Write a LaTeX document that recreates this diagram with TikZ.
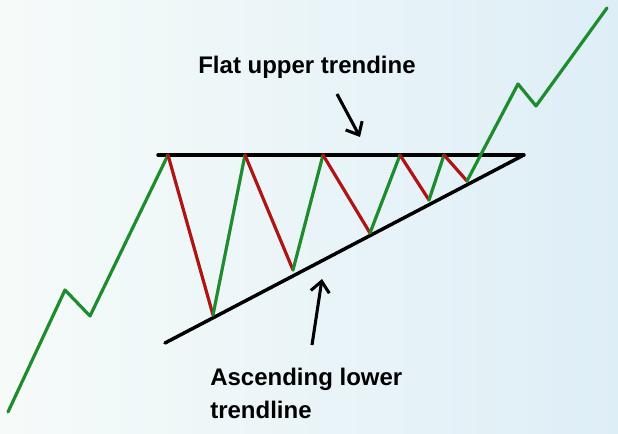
\documentclass[tikz,border=0pt]{standalone}
\usepackage{fontspec}
\setmainfont{Liberation Sans}
\usetikzlibrary{arrows.meta}
\definecolor{gr}{RGB}{30,140,45}
\definecolor{rd}{RGB}{175,20,20}
\definecolor{bgl}{RGB}{246,251,249}
\definecolor{bgr}{RGB}{222,238,247}
\begin{document}
\begin{tikzpicture}[x=0.75pt,y=-0.75pt,
  up/.style={gr,line width=2.4pt,line join=round,line cap=round},
  dn/.style={rd,line width=2.4pt,line cap=round},
  trend/.style={black,line width=2.6pt,line cap=round},
  arr/.style={black,line width=2.3pt,-{Straight Barb[length=8pt,width=14pt,line width=2.3pt]}},
  lbl/.style={font=\bfseries\fontsize{18}{21}\selectfont}]
\shade[left color=bgl,right color=bgr] (0,0) rectangle (618,434);
\useasboundingbox (0,0) rectangle (618,434);
\coordinate (u1) at (158,155); \coordinate (u2) at (524,155);
\coordinate (l1) at (165,343); \coordinate (l2) at (522,156);
\draw[trend] (u1) -- (u2);
\draw[trend] (l1) -- (l2);
\coordinate (p0) at (8,412); \coordinate (p1) at (65,290); \coordinate (p2) at (90,316);
\coordinate (a1) at (168,155); \coordinate (b1) at (213,315);
\coordinate (a2) at (245,155); \coordinate (b2) at (293,270);
\coordinate (a3) at (323,155); \coordinate (b3) at (370,233);
\coordinate (a4) at (400,155); \coordinate (b4) at (429,200);
\coordinate (a5) at (444,155); \coordinate (b5) at (467,181);
\coordinate (q1) at (518,84); \coordinate (q2) at (536,106); \coordinate (q3) at (607,8);
\draw[up] (p0) -- (p1) -- (p2) -- (a1);
\draw[dn] (a1) -- (b1); \draw[up] (b1) -- (a2);
\draw[dn] (a2) -- (b2); \draw[up] (b2) -- (a3);
\draw[dn] (a3) -- (b3); \draw[up] (b3) -- (a4);
\draw[dn] (a4) -- (b4); \draw[up] (b4) -- (a5);
\draw[dn] (a5) -- (b5); \draw[up] (b5) -- (q1) -- (q2) -- (q3);
\node[lbl] (t1) at (307,67) {Flat upper trendine};
\node[lbl,align=left,anchor=north west,inner sep=0pt] (t2) at (210,368) {Ascending lower\\[4pt]trendline};
\coordinate (s1) at (337,94); \coordinate (e1) at (360,137);
\coordinate (s2) at (312,345); \coordinate (e2) at (322,279);
\draw[arr] (s1) -- (e1);
\draw[arr] (s2) -- (e2);
\end{tikzpicture}
\end{document}
